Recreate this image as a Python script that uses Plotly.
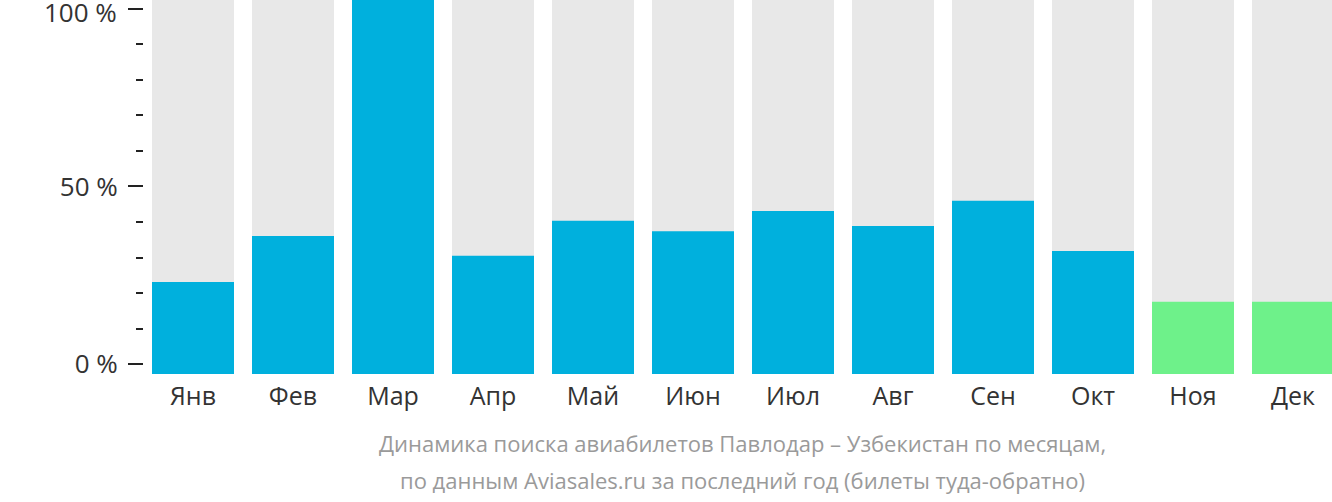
import plotly.graph_objects as go

months = ["Янв", "Фев", "Мар", "Апр", "Май", "Июн", "Июл", "Авг", "Сен", "Окт", "Ноя", "Дек"]
values = [24.6, 36.9, 100, 31.6, 41.0, 38.2, 43.6, 39.6, 46.3, 32.9, 19.3, 19.3]
bar_colors = ["#00B0DD"] * 10 + ["#6EF18A"] * 2
tick_labels = ["0 %", "50 %", "100 %"]
title_lines = [
    "Динамика поиска авиабилетов Павлодар – Узбекистан по месяцам,",
    "по данным Aviasales.ru за последний год (билеты туда-обратно)",
]

W, H = 1332, 502
plot_left, plot_bottom = 152, 374

# axis tick value positions (axis labels are slightly inset from bar extents)
t0, t100 = 2.6, 97.7
major_vals = [t0, (t0 + t100) / 2, t100]
minor_vals = [t0 + (t100 - t0) * k / 10 for k in range(11) if k % 5 != 0]

x = list(range(len(months)))

fig = go.Figure()
fig.add_trace(go.Bar(x=x, y=[100] * len(months), marker_color="#E8E8E8",
                     marker_line_width=0, width=0.82, hoverinfo="skip"))
fig.add_trace(go.Bar(x=x, y=values, marker_color=bar_colors,
                     marker_line_width=0, width=0.82))

fig.update_layout(
    width=W, height=H,
    margin=dict(l=0, r=0, t=0, b=H - plot_bottom, pad=0),
    barmode="overlay",
    showlegend=False,
    plot_bgcolor="white", paper_bgcolor="white",
    font=dict(family="Open Sans", color="#333333"),
    xaxis=dict(
        domain=[plot_left / W, 1],
        range=[-0.41, 11.39],
        tickmode="array", tickvals=x, ticktext=months,
        tickfont=dict(size=25, color="#333333"),
        showgrid=False, zeroline=False, showline=False, ticks="",
        ticklabelstandoff=5,
    ),
    yaxis=dict(
        range=[0, 100],
        anchor="free", position=143 / W,
        tickmode="array", tickvals=major_vals, ticktext=tick_labels[:2] + [""],
        ticks="outside", ticklen=15, tickwidth=2, tickcolor="#222222",
        tickfont=dict(size=26, color="#333333"),
        ticklabelstandoff=5,
        minor=dict(tickvals=minor_vals, ticks="outside", ticklen=7,
                   tickwidth=2, tickcolor="#222222", showgrid=False),
        showgrid=False, zeroline=False, showline=False,
    ),
)

# top tick label drawn as annotation (would otherwise be dropped at the edge)
fig.add_annotation(text=tick_labels[2], x=118 / W, xref="paper",
                   y=100, yref="y", xanchor="right", yanchor="top", yshift=7,
                   showarrow=False, borderpad=0,
                   font=dict(size=26, color="#333333", family="Open Sans"))

center_x = (plot_left + W) / 2 / W
for i, line in enumerate(title_lines):
    fig.add_annotation(text=line, x=center_x, xref="paper",
                       y=(plot_bottom - (443 + 37 * i)) / plot_bottom, yref="paper",
                       xanchor="center", yanchor="middle", showarrow=False,
                       font=dict(size=22, color="#9A9A9A", family="Open Sans"))

fig.write_html("out.html")
